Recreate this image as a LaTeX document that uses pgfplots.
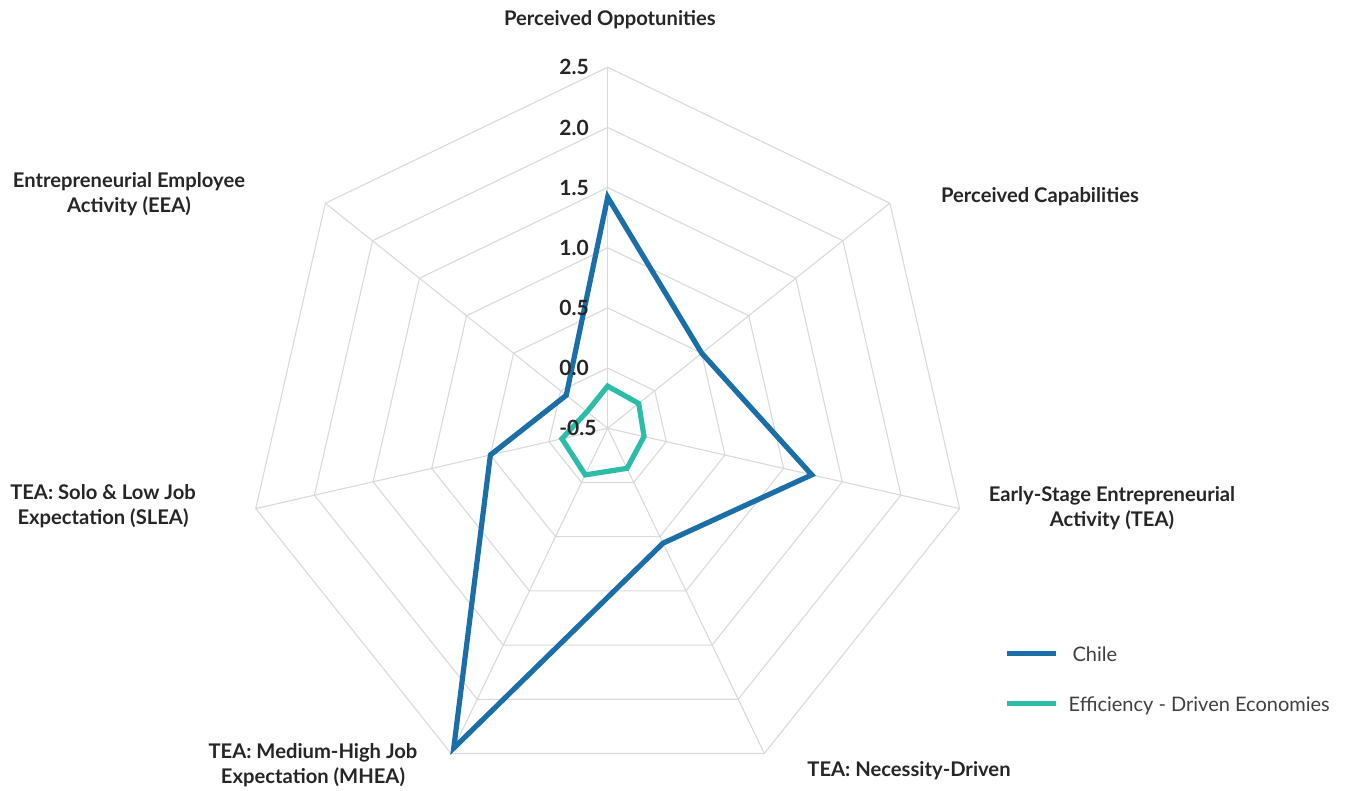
\documentclass[border=0pt]{standalone}
\usepackage{pgfplots}
\usepackage{pgfplotstable}
\pgfplotsset{compat=1.18}
\usepackage{fontspec}
\setmainfont{Lato}

\definecolor{chileblue}{RGB}{27,111,168}
\definecolor{effteal}{RGB}{44,188,168}
\definecolor{gridc}{RGB}{217,217,217}
\definecolor{labc}{RGB}{38,38,38}

% radar values (axis runs from -0.5 at the centre to 2.5)
% idx: 0 opportunities, 1 capabilities, 2 TEA, 3 necessity, 4 MHEA, 5 SLEA, 6 EEA
\pgfplotstableread{
idx chile eff
0   1.42  -0.15
1   0.50  -0.17
2   1.24  -0.19
3   0.56  -0.13
4   2.45  -0.07
5   0.50  -0.11
6  -0.06  -0.28
}\radar

% heptagon through radius #1 (radius = value + 0.5)
\newcommand{\ring}[1]{(axis cs:0,{#1})
  -- (axis cs:{#1*cos(90-360/7)},{#1*sin(90-360/7)})
  -- (axis cs:{#1*cos(90-2*360/7)},{#1*sin(90-2*360/7)})
  -- (axis cs:{#1*cos(90-3*360/7)},{#1*sin(90-3*360/7)})
  -- (axis cs:{#1*cos(90-4*360/7)},{#1*sin(90-4*360/7)})
  -- (axis cs:{#1*cos(90-5*360/7)},{#1*sin(90-5*360/7)})
  -- (axis cs:{#1*cos(90-6*360/7)},{#1*sin(90-6*360/7)}) -- cycle}

\begin{document}
\begin{tikzpicture}
\begin{axis}[
  name=ax,
  x=60.17pt, y=60.17pt,
  xmin=-5.050, xmax=6.219,
  ymin=-3.014, ymax=3.559,
  hide axis,
  clip=false,
  legend style={at={(0.7404,0.139)}, anchor=west, draw=none, fill=none,
    font=\fontsize{10}{12}\selectfont, text=black!75,
    row sep=12pt, inner sep=0pt,
    /tikz/every odd column/.append style={column sep=3pt}},
  legend cell align=left,
  legend image code/.code={\draw[#1] (0pt,0.13em) -- (24.5pt,0.13em);},
]
% grid
\pgfplotsinvokeforeach{1,...,6}{\draw[gridc, line width=0.55pt] \ring{#1*0.5};}
\pgfplotsinvokeforeach{0,...,6}{\draw[gridc, line width=0.55pt] (axis cs:0,0)
  -- (axis cs:{3*cos(90-#1*360/7)},{3*sin(90-#1*360/7)});}

\addplot[chileblue, line width=2.6pt, no markers] table[
  x expr={(\thisrow{chile}+0.5)*cos(90-\thisrow{idx}*360/7)},
  y expr={(\thisrow{chile}+0.5)*sin(90-\thisrow{idx}*360/7)}] {\radar} -- cycle;
\addplot[effteal, line width=2.6pt, no markers] table[
  x expr={(\thisrow{eff}+0.5)*cos(90-\thisrow{idx}*360/7)},
  y expr={(\thisrow{eff}+0.5)*sin(90-\thisrow{idx}*360/7)}] {\radar} -- cycle;
\legend{\hspace{2pt}Chile, Efficiency - Driven Economies}

% value labels along the top spoke
\begin{scope}[every node/.style={anchor=west, inner sep=0pt, text=labc,
  font=\fontsize{10.5}{12}\selectfont\bfseries}]
\node at (axis cs:-0.405,0.0) {-0.5};
\node at (axis cs:-0.405,0.5) {0.0};
\node at (axis cs:-0.405,1.0) {0.5};
\node at (axis cs:-0.405,1.5) {1.0};
\node at (axis cs:-0.405,2.0) {1.5};
\node at (axis cs:-0.405,2.5) {2.0};
\node at (axis cs:-0.405,3.0) {2.5};
\end{scope}

% category labels
\begin{scope}[every node/.style={align=center, inner sep=0pt, text=labc,
  font=\fontsize{10.1}{12.5}\selectfont\bfseries}]
\node at (axis cs:0.019,3.394) {Perceived Oppotunities};
\node at (axis cs:3.593,1.922) {Perceived Capabilities};
\node at (axis cs:4.191,-0.662) {Early-Stage Entrepreneurial\\Activity (TEA)};
\node at (axis cs:2.504,-2.848) {TEA: Necessity-Driven};
\node at (axis cs:-2.449,-2.798) {TEA: Medium-High Job\\Expectation (MHEA)};
\node at (axis cs:-4.194,-0.645) {TEA: Solo \& Low Job\\Expectation (SLEA)};
\node at (axis cs:-3.978,1.947) {Entrepreneurial Employee\\Activity (EEA)};
\end{scope}
\end{axis}
\pgfresetboundingbox
\path (ax.south west) rectangle (ax.north east);
\end{tikzpicture}
\end{document}
